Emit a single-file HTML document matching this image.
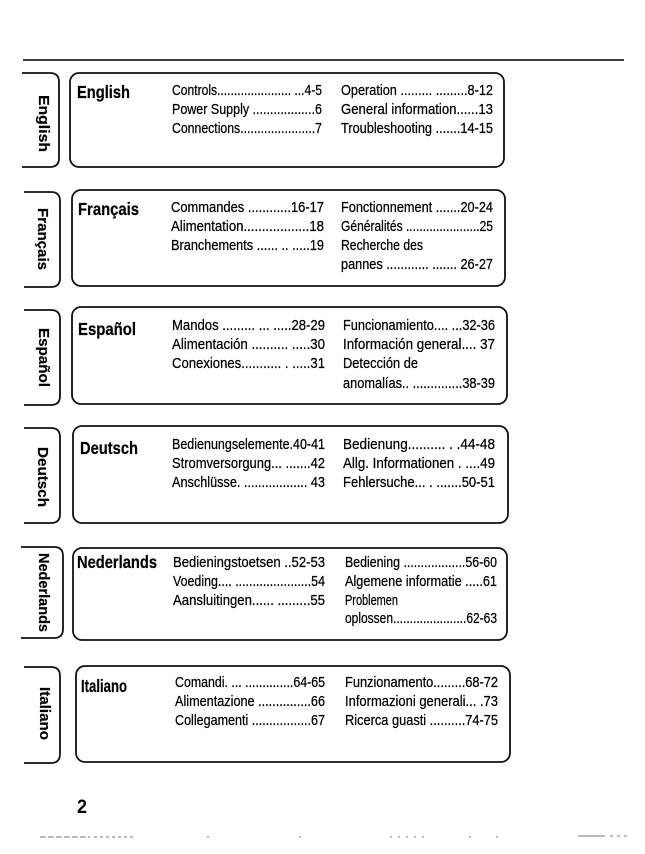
<!DOCTYPE html>
<html>
<head>
<meta charset="utf-8">
<style>
html,body{margin:0;padding:0;background:#fff;}
svg{display:block;}
.e{font-family:"Liberation Sans Narrow","Liberation Sans",sans-serif;font-size:15px;fill:#000;stroke:#000;stroke-width:0.25;}
.t{font-family:"Liberation Sans Narrow","Liberation Sans",sans-serif;font-size:17.5px;font-weight:bold;fill:#000;stroke:#000;stroke-width:0.2;}
.v{font-family:"Liberation Sans Narrow","Liberation Sans",sans-serif;font-size:15px;font-weight:bold;fill:#000;stroke:#000;stroke-width:0.2;}
.b{fill:none;stroke:#111;stroke-width:1.8;}
</style>
</head>
<body>
<svg width="645" height="854" viewBox="0 0 645 854" xmlns="http://www.w3.org/2000/svg">
<line x1="23" y1="60" x2="624" y2="60" stroke="#222" stroke-width="1.8"/>

<!-- ENGLISH -->
<path class="b" d="M22,73 L50,73 Q59,73 59,82 L59,158 Q59,167 50,167 L22,167"/>
<rect class="b" x="70" y="73" width="434" height="94" rx="9"/>
<text class="v" transform="translate(39,123.5) rotate(90)" text-anchor="middle" textLength="57" lengthAdjust="spacingAndGlyphs">English</text>
<text class="t" x="77" y="98" textLength="53" lengthAdjust="spacingAndGlyphs">English</text>
<text class="e" x="172" y="95" textLength="150" lengthAdjust="spacingAndGlyphs">Controls...................... ...4-5</text>
<text class="e" x="172" y="114" textLength="150" lengthAdjust="spacingAndGlyphs">Power Supply ..................6</text>
<text class="e" x="172" y="133" textLength="150" lengthAdjust="spacingAndGlyphs">Connections......................7</text>
<text class="e" x="341" y="95" textLength="152" lengthAdjust="spacingAndGlyphs">Operation ......... .........8-12</text>
<text class="e" x="341" y="114" textLength="152" lengthAdjust="spacingAndGlyphs">General information......13</text>
<text class="e" x="341" y="133" textLength="152" lengthAdjust="spacingAndGlyphs">Troubleshooting .......14-15</text>

<!-- FRANCAIS -->
<path class="b" d="M24,192 L51,192 Q60,192 60,201 L60,278 Q60,287 51,287 L24,287"/>
<rect class="b" x="72" y="190" width="433" height="96" rx="9"/>
<text class="v" transform="translate(38,239) rotate(90)" text-anchor="middle" textLength="62" lengthAdjust="spacingAndGlyphs">Français</text>
<text class="t" x="78" y="215" textLength="61" lengthAdjust="spacingAndGlyphs">Français</text>
<text class="e" x="171" y="212" textLength="153" lengthAdjust="spacingAndGlyphs">Commandes ............16-17</text>
<text class="e" x="171" y="231" textLength="153" lengthAdjust="spacingAndGlyphs">Alimentation..................18</text>
<text class="e" x="171" y="250" textLength="153" lengthAdjust="spacingAndGlyphs">Branchements ...... .. .....19</text>
<text class="e" x="341" y="212" textLength="152" lengthAdjust="spacingAndGlyphs">Fonctionnement .......20-24</text>
<text class="e" x="341" y="231" textLength="152" lengthAdjust="spacingAndGlyphs">Généralités ......................25</text>
<text class="e" x="341" y="250" textLength="82" lengthAdjust="spacingAndGlyphs">Recherche des</text>
<text class="e" x="341" y="269" textLength="152" lengthAdjust="spacingAndGlyphs">pannes ............ ....... 26-27</text>

<!-- ESPANOL -->
<path class="b" d="M24,310 L51,310 Q60,310 60,319 L60,396 Q60,405 51,405 L24,405"/>
<rect class="b" x="72" y="307" width="435" height="97" rx="9"/>
<text class="v" transform="translate(39,357.5) rotate(90)" text-anchor="middle" textLength="59" lengthAdjust="spacingAndGlyphs">Español</text>
<text class="t" x="78" y="335" textLength="58" lengthAdjust="spacingAndGlyphs">Español</text>
<text class="e" x="172" y="330" textLength="153" lengthAdjust="spacingAndGlyphs">Mandos ......... ... .....28-29</text>
<text class="e" x="172" y="349" textLength="153" lengthAdjust="spacingAndGlyphs">Alimentación .......... .....30</text>
<text class="e" x="172" y="368" textLength="153" lengthAdjust="spacingAndGlyphs">Conexiones........... . .....31</text>
<text class="e" x="343" y="330" textLength="152" lengthAdjust="spacingAndGlyphs">Funcionamiento.... ...32-36</text>
<text class="e" x="343" y="349" textLength="152" lengthAdjust="spacingAndGlyphs">Información general.... 37</text>
<text class="e" x="343" y="368" textLength="75" lengthAdjust="spacingAndGlyphs">Detección de</text>
<text class="e" x="343" y="388" textLength="152" lengthAdjust="spacingAndGlyphs">anomalías.. ..............38-39</text>

<!-- DEUTSCH -->
<path class="b" d="M24,428 L51,428 Q60,428 60,437 L60,514 Q60,523 51,523 L24,523"/>
<rect class="b" x="73" y="426" width="435" height="97" rx="9"/>
<text class="v" transform="translate(38,477) rotate(90)" text-anchor="middle" textLength="60" lengthAdjust="spacingAndGlyphs">Deutsch</text>
<text class="t" x="80" y="454" textLength="58" lengthAdjust="spacingAndGlyphs">Deutsch</text>
<text class="e" x="172" y="449" textLength="153" lengthAdjust="spacingAndGlyphs">Bedienungselemente.40-41</text>
<text class="e" x="172" y="468" textLength="153" lengthAdjust="spacingAndGlyphs">Stromversorgung... .......42</text>
<text class="e" x="172" y="487" textLength="153" lengthAdjust="spacingAndGlyphs">Anschlüsse. .................. 43</text>
<text class="e" x="343" y="449" textLength="152" lengthAdjust="spacingAndGlyphs">Bedienung.......... . .44-48</text>
<text class="e" x="343" y="468" textLength="152" lengthAdjust="spacingAndGlyphs">Allg. Informationen . ....49</text>
<text class="e" x="343" y="487" textLength="152" lengthAdjust="spacingAndGlyphs">Fehlersuche... . .......50-51</text>

<!-- NEDERLANDS -->
<path class="b" d="M21,547 L54,547 Q63,547 63,556 L63,629 Q63,638 54,638 L21,638"/>
<rect class="b" x="73" y="548" width="434" height="92" rx="9"/>
<text class="v" transform="translate(39,592.5) rotate(90)" text-anchor="middle" textLength="79" lengthAdjust="spacingAndGlyphs">Nederlands</text>
<text class="t" x="77" y="568" textLength="80" lengthAdjust="spacingAndGlyphs">Nederlands</text>
<text class="e" x="173" y="567" textLength="152" lengthAdjust="spacingAndGlyphs">Bedieningstoetsen ..52-53</text>
<text class="e" x="173" y="586" textLength="152" lengthAdjust="spacingAndGlyphs">Voeding.... ......................54</text>
<text class="e" x="173" y="605" textLength="152" lengthAdjust="spacingAndGlyphs">Aansluitingen...... .........55</text>
<text class="e" x="345" y="567" textLength="152" lengthAdjust="spacingAndGlyphs">Bediening ..................56-60</text>
<text class="e" x="345" y="586" textLength="152" lengthAdjust="spacingAndGlyphs">Algemene informatie .....61</text>
<text class="e" x="345" y="605" textLength="53" lengthAdjust="spacingAndGlyphs">Problemen</text>
<text class="e" x="345" y="623" textLength="152" lengthAdjust="spacingAndGlyphs">oplossen......................62-63</text>

<!-- ITALIANO -->
<path class="b" d="M24,667 L51,667 Q60,667 60,676 L60,754 Q60,763 51,763 L24,763"/>
<rect class="b" x="76" y="666" width="434" height="96" rx="9"/>
<text class="v" transform="translate(40,713.5) rotate(90)" text-anchor="middle" textLength="53" lengthAdjust="spacingAndGlyphs">Italiano</text>
<text class="t" x="81" y="692" textLength="46" lengthAdjust="spacingAndGlyphs">Italiano</text>
<text class="e" x="175" y="687" textLength="150" lengthAdjust="spacingAndGlyphs">Comandi. ... ..............64-65</text>
<text class="e" x="175" y="706" textLength="150" lengthAdjust="spacingAndGlyphs">Alimentazione ...............66</text>
<text class="e" x="175" y="725" textLength="150" lengthAdjust="spacingAndGlyphs">Collegamenti .................67</text>
<text class="e" x="345" y="687" textLength="153" lengthAdjust="spacingAndGlyphs">Funzionamento.........68-72</text>
<text class="e" x="345" y="706" textLength="153" lengthAdjust="spacingAndGlyphs">Informazioni generali... .73</text>
<text class="e" x="345" y="725" textLength="153" lengthAdjust="spacingAndGlyphs">Ricerca guasti ..........74-75</text>

<!-- page number -->
<text x="77" y="813" font-family="Liberation Sans Narrow, Liberation Sans, sans-serif" font-size="19" font-weight="bold" fill="#000" textLength="10" lengthAdjust="spacingAndGlyphs">2</text>

<!-- scan noise -->
<g stroke="#777" stroke-width="1">
<line x1="40" y1="837" x2="90" y2="837" stroke-dasharray="6,2"/>
<line x1="94" y1="837" x2="133" y2="837" stroke-dasharray="3,3"/>
<line x1="207" y1="837" x2="209" y2="837"/>
<line x1="299" y1="837" x2="301" y2="837"/>
<line x1="390" y1="837" x2="425" y2="837" stroke-dasharray="2,6"/>
<line x1="469" y1="837" x2="471" y2="837"/>
<line x1="496" y1="837" x2="498" y2="837"/>
<line x1="578" y1="836" x2="605" y2="836"/>
<line x1="610" y1="836" x2="630" y2="836" stroke-dasharray="3,4"/>
</g>
</svg>
</body>
</html>
